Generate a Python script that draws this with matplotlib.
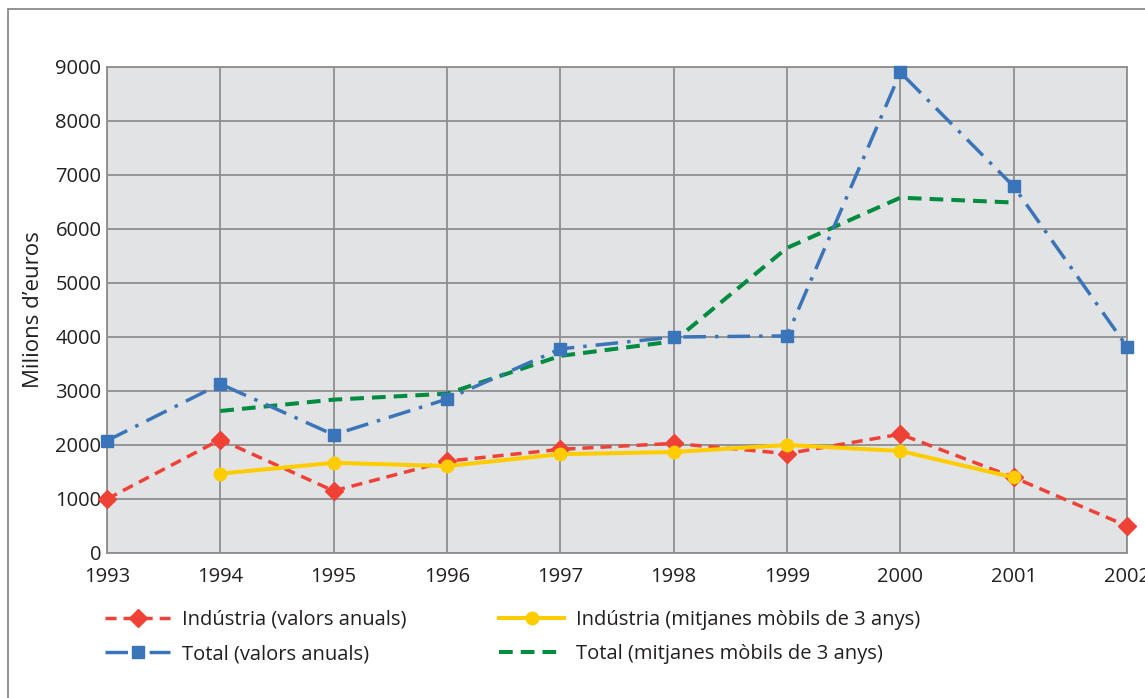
import matplotlib
matplotlib.use("Agg")
import matplotlib.pyplot as plt
from matplotlib.patches import Rectangle

plt.rcParams['font.family'] = ['Open Sans', 'DejaVu Sans']

## data (milions d'euros)
years = [1993, 1994, 1995, 1996, 1997, 1998, 1999, 2000, 2001, 2002]
ind_anual = [1000, 2100, 1150, 1700, 1920, 2030, 1840, 2200, 1400, 500]
tot_anual = [2080, 3130, 2190, 2850, 3780, 4000, 4020, 8900, 6790, 3820]
mov_years = [1994, 1995, 1996, 1997, 1998, 1999, 2000, 2001]
ind_mobil = [1470, 1670, 1610, 1830, 1870, 2000, 1890, 1400]
tot_mobil = [2630, 2840, 2950, 3650, 3920, 5650, 6580, 6490]

labels = ["Indústria (valors anuals)", "Total (valors anuals)",
          "Indústria (mitjanes mòbils de 3 anys)", "Total (mitjanes mòbils de 3 anys)"]

RED = "#ef4136"
BLUE = "#3a75b9"
YELLOW = "#ffcc00"
GREEN = "#008c3f"
GRID = "#8e8e8e"
TXT = "#231f20"
FS = 14.5

fig = plt.figure(figsize=(11.45, 6.98), dpi=100)
ax = fig.add_axes([107/1145, 1-553/698, (1127-107)/1145, (553-67)/698])
ax.set_facecolor("#e2e3e5")

## outer frame of the figure box
fig.patches.append(Rectangle((8/1145, -0.2), 1.2, 1.2 - 9/698, transform=fig.transFigure,
                             fill=False, edgecolor="#8a8a8a", lw=1.3, zorder=0))

lw = 2.5
l1, = ax.plot(years, ind_anual, color=RED, lw=lw, dashes=(3.2, 2.0),
              marker="D", ms=9, clip_on=False, zorder=4)
l2, = ax.plot(years, tot_anual, color=BLUE, lw=lw, dashes=(6.5, 2.6, 1.0, 2.6),
              marker="s", ms=8.5, clip_on=False, zorder=3)
l3, = ax.plot(mov_years, ind_mobil, color=YELLOW, lw=lw + 0.4,
              marker="o", ms=9, clip_on=False, zorder=5)
l4, = ax.plot(mov_years, tot_mobil, color=GREEN, lw=lw + 0.4, dashes=(3.4, 2.0),
              zorder=2)

ax.set_xlim(1993, 2002)
ax.set_ylim(0, 9000)
ax.set_xticks(years)
ax.set_yticks(range(0, 9001, 1000))
ax.grid(True, color=GRID, lw=1.3)
ax.set_axisbelow(True)
for s in ax.spines.values():
    s.set_color(GRID)
    s.set_linewidth(1.3)
ax.tick_params(length=0, labelsize=FS, colors=TXT, pad=4)
ax.tick_params(axis="x", pad=10)
ax.set_ylabel("Milions d’euros", fontsize=16, color=TXT, labelpad=8)

leg_kw = dict(frameon=False, fontsize=FS, handlelength=3.25, handletextpad=0.55,
              labelspacing=0.72, borderaxespad=0, borderpad=0, labelcolor=TXT)
fig.legend([l1, l2], labels[:2], loc="upper left",
           bbox_to_anchor=(105/1145, 1-610/698), **leg_kw)
fig.legend([l3, l4], labels[2:], loc="upper left",
           bbox_to_anchor=(499/1145, 1-610/698), **leg_kw)

fig.savefig("out.png", dpi=100)
